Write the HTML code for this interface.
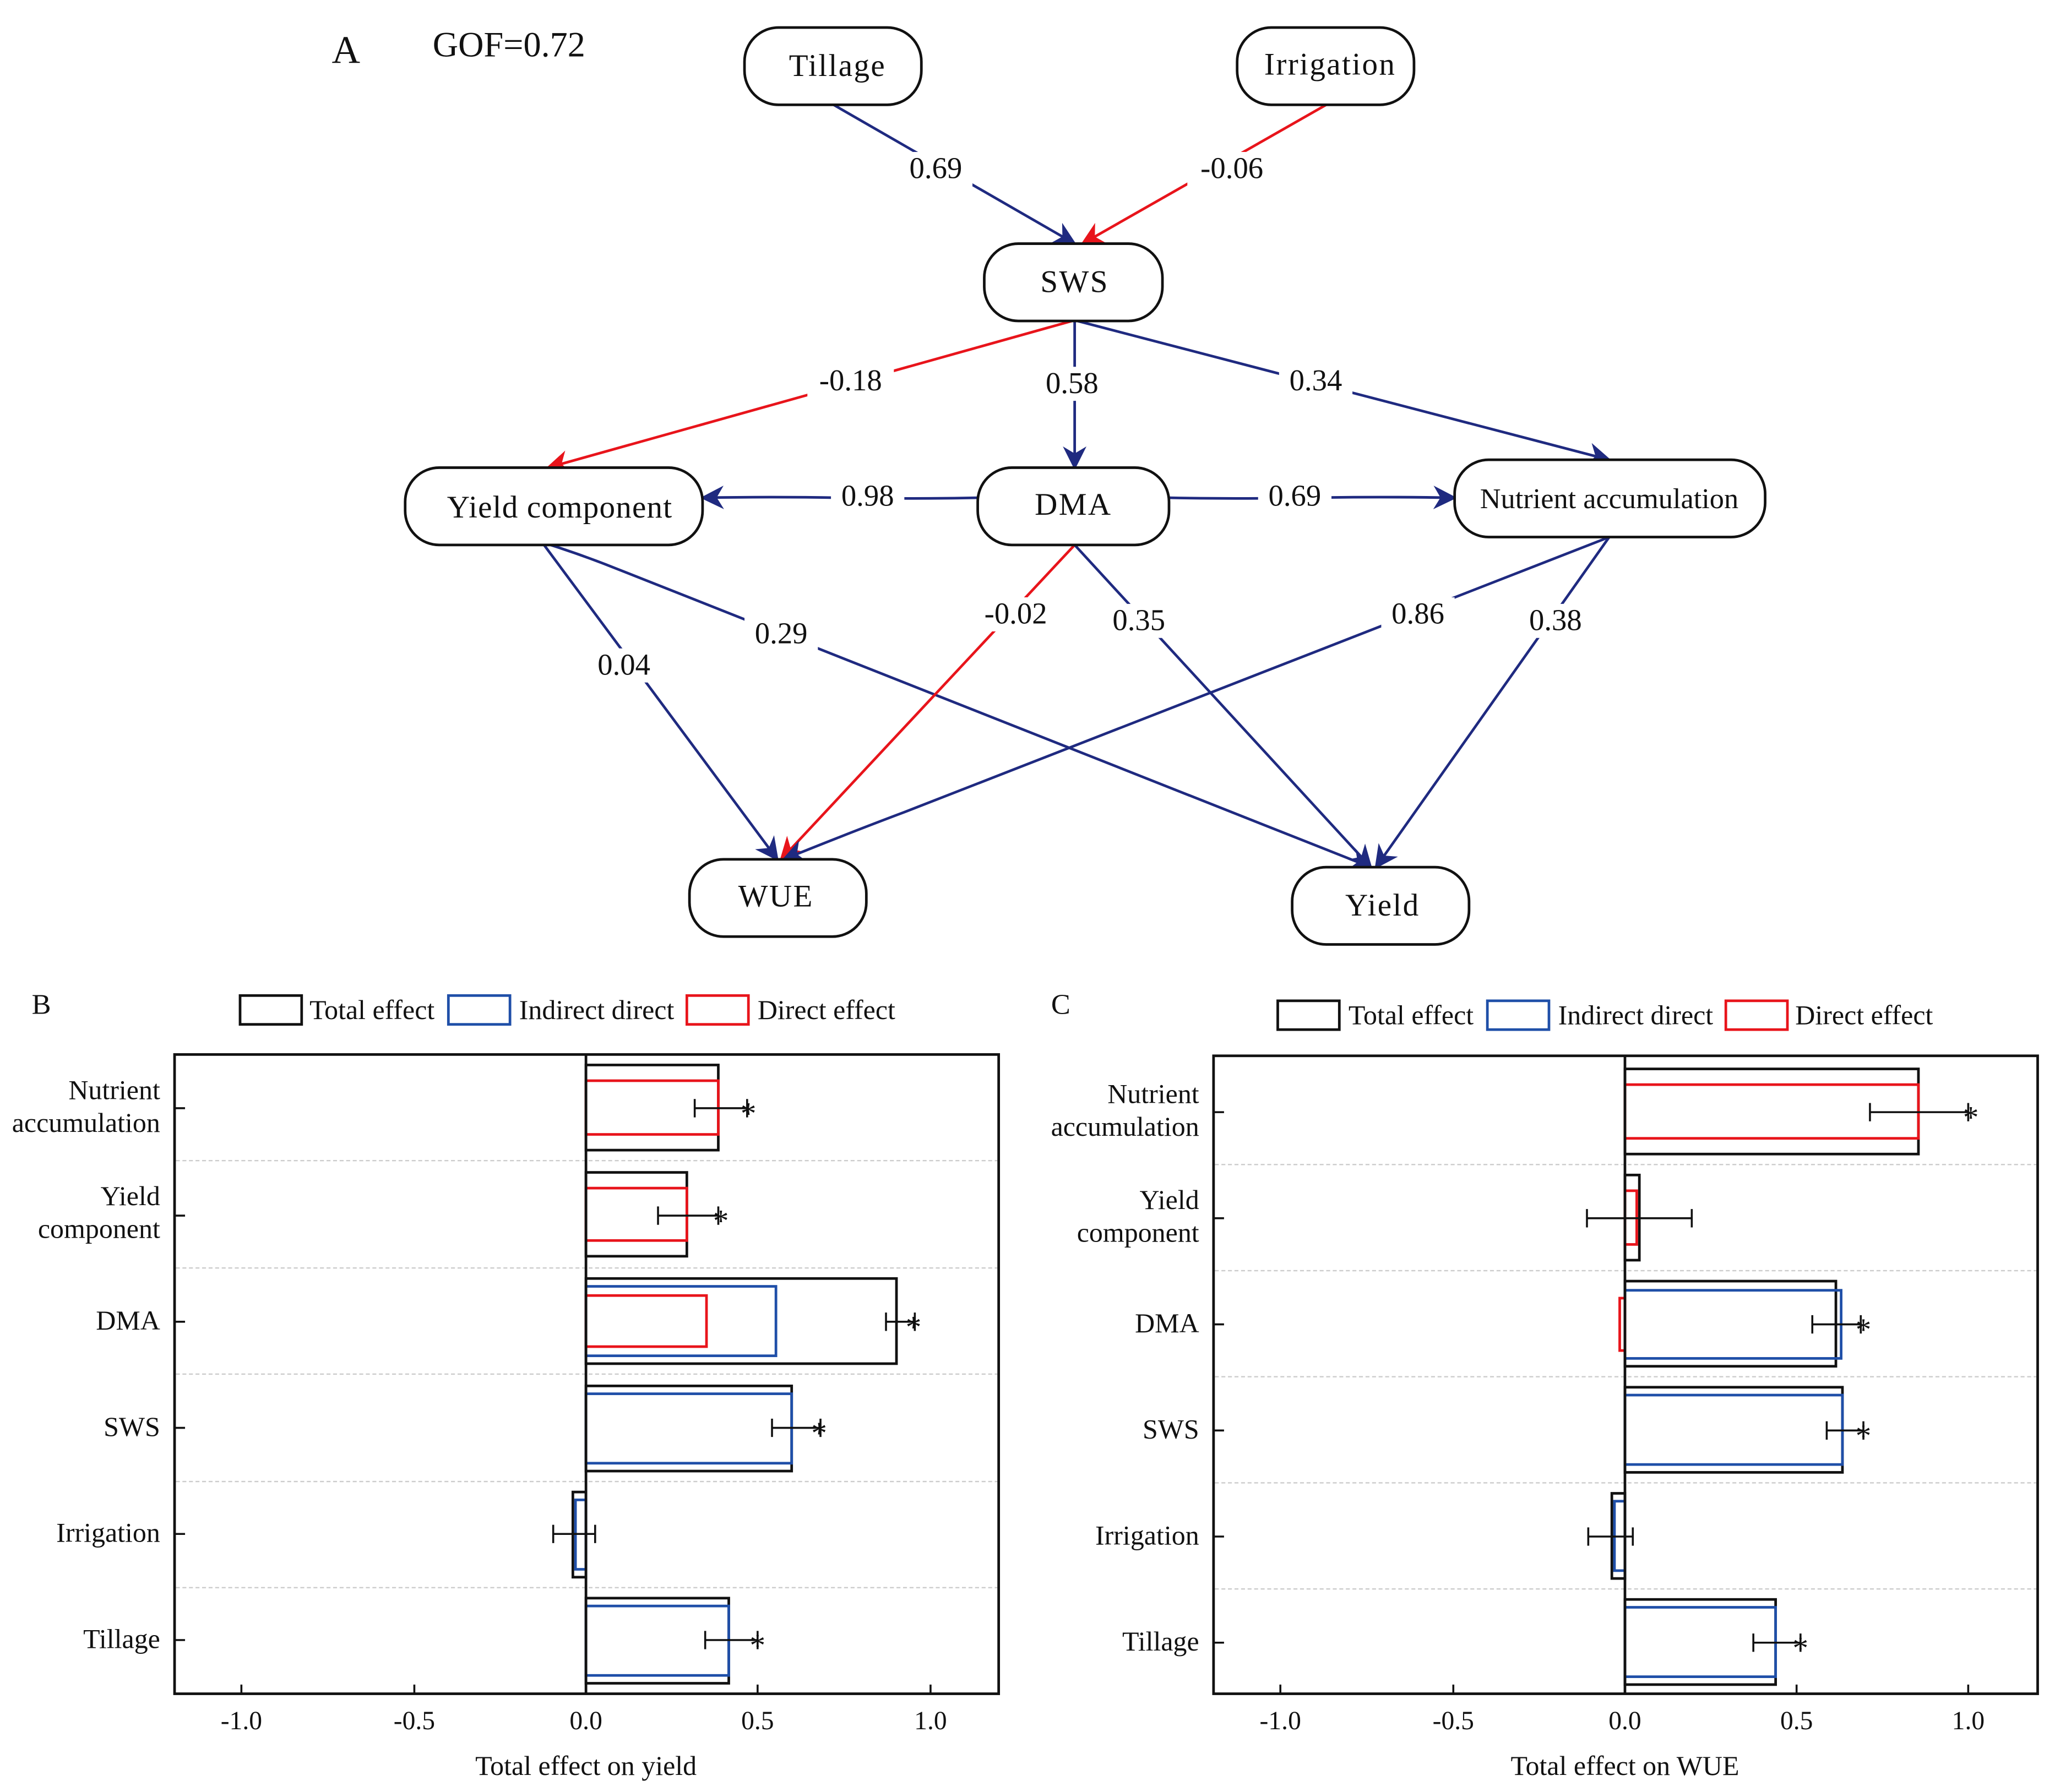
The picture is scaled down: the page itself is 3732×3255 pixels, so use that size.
<!DOCTYPE html>
<html><head><meta charset="utf-8"><style>
html,body{margin:0;padding:0;background:#fff}
svg{display:block}
text{font-family:"Liberation Serif",serif;fill:#111}
</style></head><body>
<svg width="3732" height="3255" viewBox="0 0 1568 1368" xmlns="http://www.w3.org/2000/svg">
<defs>
<marker id="ab2" viewBox="0 0 10 10" refX="9" refY="5" markerWidth="18" markerHeight="18" orient="auto" markerUnits="userSpaceOnUse"><path d="M0,0 L10,5 L0,10 L3,5 z" fill="#1f2a80"/></marker>
<marker id="ar2" viewBox="0 0 10 10" refX="9" refY="5" markerWidth="18" markerHeight="18" orient="auto" markerUnits="userSpaceOnUse"><path d="M0,0 L10,5 L0,10 L3,5 z" fill="#e8141b"/></marker>
</defs>
<rect width="1568" height="1368" fill="#fff"/>
<!-- Panel A -->
<text x="253" y="48" font-size="30">A</text>
<text x="330" y="43" font-size="27">GOF=0.72</text>
<g fill="none" stroke-width="2">
<line x1="636" y1="80" x2="820" y2="186" stroke="#1f2a80" marker-end="url(#ab2)"/>
<line x1="1012" y1="80" x2="826" y2="186" stroke="#e8141b" marker-end="url(#ar2)"/>
<line x1="818" y1="245" x2="418" y2="357" stroke="#e8141b" marker-end="url(#ar2)"/>
<line x1="820" y1="245" x2="820" y2="357" stroke="#1f2a80" marker-end="url(#ab2)"/>
<line x1="822" y1="245" x2="1228" y2="351" stroke="#1f2a80" marker-end="url(#ab2)"/>
<path d="M746,380 Q700,381 640,380 Q590,379 536,380" stroke="#1f2a80" marker-end="url(#ab2)"/>
<path d="M892,380 Q940,381 1000,380 Q1050,379 1110,380" stroke="#1f2a80" marker-end="url(#ab2)"/>
<line x1="415" y1="416" x2="593" y2="656" stroke="#1f2a80" marker-end="url(#ab2)"/>
<path d="M420,416 Q445,424 470,434 L1046,662" stroke="#1f2a80" marker-end="url(#ab2)"/>
<line x1="820" y1="416" x2="596" y2="656" stroke="#e8141b" marker-end="url(#ar2)"/>
<line x1="820" y1="416" x2="1046" y2="662" stroke="#1f2a80" marker-end="url(#ab2)"/>
<path d="M1228,410 L690,620 Q650,635 598,656" stroke="#1f2a80" marker-end="url(#ab2)"/>
<line x1="1228" y1="410" x2="1050" y2="662" stroke="#1f2a80" marker-end="url(#ab2)"/>
</g>
<g font-size="23" text-anchor="middle">
<rect x="686" y="116" width="56" height="26" fill="#fff"/><text x="714" y="136">0.69</text>
<rect x="906" y="116" width="68" height="26" fill="#fff"/><text x="940" y="136">-0.06</text>
<rect x="616" y="278" width="66" height="26" fill="#fff"/><text x="649" y="298">-0.18</text>
<rect x="790" y="280" width="56" height="26" fill="#fff"/><text x="818" y="300">0.58</text>
<rect x="976" y="278" width="56" height="26" fill="#fff"/><text x="1004" y="298">0.34</text>
<rect x="634" y="366" width="56" height="26" fill="#fff"/><text x="662" y="386">0.98</text>
<rect x="960" y="366" width="56" height="26" fill="#fff"/><text x="988" y="386">0.69</text>
<rect x="448" y="495" width="56" height="26" fill="#fff"/><text x="476" y="515">0.04</text>
<rect x="568" y="471" width="56" height="26" fill="#fff"/><text x="596" y="491">0.29</text>
<rect x="742" y="456" width="66" height="26" fill="#fff"/><text x="775" y="476">-0.02</text>
<rect x="841" y="461" width="56" height="26" fill="#fff"/><text x="869" y="481">0.35</text>
<rect x="1054" y="456" width="56" height="26" fill="#fff"/><text x="1082" y="476">0.86</text>
<rect x="1159" y="461" width="56" height="26" fill="#fff"/><text x="1187" y="481">0.38</text>
</g>
<g fill="#fff" stroke="#111" stroke-width="2">
<rect x="568" y="21" width="135" height="59" rx="26"/>
<rect x="944" y="21" width="135" height="59" rx="26"/>
<rect x="751" y="186" width="136" height="59" rx="26"/>
<rect x="309" y="357" width="227" height="59" rx="26"/>
<rect x="746" y="357" width="146" height="59" rx="26"/>
<rect x="1110" y="351" width="237" height="59" rx="26"/>
<rect x="526" y="656" width="135" height="59" rx="26"/>
<rect x="986" y="662" width="135" height="59" rx="26"/>
</g>
<g font-size="24" text-anchor="middle">
<text x="639" y="58" letter-spacing="1">Tillage</text>
<text x="1015" y="57" letter-spacing="1">Irrigation</text>
<text x="820" y="223" letter-spacing="1">SWS</text>
<text x="427" y="395" letter-spacing="0.5">Yield component</text>
<text x="819" y="393" letter-spacing="1">DMA</text>
<text x="1228" y="388" font-size="22">Nutrient accumulation</text>
<text x="592" y="692" letter-spacing="1">WUE</text>
<text x="1055" y="699" letter-spacing="1">Yield</text>
</g>

<!-- Panel B -->
<text x="24" y="774" font-size="22">B</text>
<g stroke-width="2" fill="none">
<rect x="183" y="760" width="47" height="22" stroke="#111"/>
<rect x="342" y="760" width="47" height="22" stroke="#1f4fa8"/>
<rect x="524" y="760" width="47" height="22" stroke="#e8141b"/>
</g>
<g font-size="21"><text x="236" y="778">Total effect</text><text x="396" y="778">Indirect direct</text><text x="578" y="778">Direct effect</text></g>
<g stroke="#ccc" stroke-width="1" stroke-dasharray="3,2">
<line x1="134" y1="886" x2="761" y2="886"/><line x1="134" y1="968" x2="761" y2="968"/>
<line x1="134" y1="1049" x2="761" y2="1049"/><line x1="134" y1="1131" x2="761" y2="1131"/>
<line x1="134" y1="1212" x2="761" y2="1212"/>
</g>
<g stroke-width="2" fill="none">
<rect x="447" y="813" width="101" height="65" stroke="#111"/>
<rect x="447" y="825" width="101" height="41" stroke="#e8141b"/>
<rect x="447" y="895" width="77" height="64" stroke="#111"/>
<rect x="447" y="907" width="77" height="40" stroke="#e8141b"/>
<rect x="447" y="976" width="237" height="65" stroke="#111"/>
<rect x="447" y="982" width="145" height="53" stroke="#1f4fa8"/>
<rect x="447" y="989" width="92" height="39" stroke="#e8141b"/>
<rect x="447" y="1058" width="157" height="65" stroke="#111"/>
<rect x="447" y="1064" width="157" height="53" stroke="#1f4fa8"/>
<rect x="437" y="1139" width="10" height="65" stroke="#111"/>
<rect x="439" y="1145" width="8" height="53" stroke="#1f4fa8"/>
<rect x="447" y="1220" width="109" height="65" stroke="#111"/>
<rect x="447" y="1226" width="109" height="53" stroke="#1f4fa8"/>
<line x1="447" y1="805" x2="447" y2="1293" stroke="#111"/>
</g>
<g stroke="#111" stroke-width="1.5">
<path d="M530,846H570M530,839V853M570,839V853"/>
<path d="M502,928H548M502,921V935M548,921V935"/>
<path d="M676,1009H698M676,1002V1016M698,1002V1016"/>
<path d="M589,1090H626M589,1083V1097M626,1083V1097"/>
<path d="M422,1171H454M422,1164V1178M454,1164V1178"/>
<path d="M538,1252H578M538,1245V1259M578,1245V1259"/>
</g>
<g font-size="24"><text x="565" y="858">*</text><text x="544" y="940">*</text><text x="691" y="1021">*</text><text x="619" y="1102">*</text><text x="572" y="1264">*</text></g>
<rect x="133" y="805" width="629" height="488" fill="none" stroke="#111" stroke-width="2"/>
<g stroke="#111" stroke-width="1.5">
<path d="M133,846h8M133,928h8M133,1009h8M133,1090h8M133,1171h8M133,1252h8"/>
<path d="M184,1293v-7M316,1293v-7M447,1293v-7M578,1293v-7M710,1293v-7"/>
</g>
<g font-size="21" text-anchor="end">
<text x="122" y="839">Nutrient</text><text x="122" y="864">accumulation</text>
<text x="122" y="920">Yield</text><text x="122" y="945">component</text>
<text x="122" y="1015">DMA</text><text x="122" y="1096">SWS</text>
<text x="122" y="1177">Irrigation</text><text x="122" y="1258">Tillage</text>
</g>
<g font-size="20" text-anchor="middle">
<text x="184" y="1320">-1.0</text><text x="316" y="1320">-0.5</text><text x="447" y="1320">0.0</text><text x="578" y="1320">0.5</text><text x="710" y="1320">1.0</text>
<text x="447" y="1355" font-size="21">Total effect on yield</text>
</g>

<!-- Panel C -->
<text x="802" y="774" font-size="22">C</text>
<g stroke-width="2" fill="none">
<rect x="975" y="764" width="47" height="22" stroke="#111"/>
<rect x="1135" y="764" width="47" height="22" stroke="#1f4fa8"/>
<rect x="1317" y="764" width="47" height="22" stroke="#e8141b"/>
</g>
<g font-size="21"><text x="1029" y="782">Total effect</text><text x="1189" y="782">Indirect direct</text><text x="1370" y="782">Direct effect</text></g>
<g stroke="#ccc" stroke-width="1" stroke-dasharray="3,2">
<line x1="927" y1="889" x2="1554" y2="889"/><line x1="927" y1="970" x2="1554" y2="970"/>
<line x1="927" y1="1051" x2="1554" y2="1051"/><line x1="927" y1="1132" x2="1554" y2="1132"/>
<line x1="927" y1="1213" x2="1554" y2="1213"/>
</g>
<g stroke-width="2" fill="none">
<rect x="1240" y="816" width="224" height="65" stroke="#111"/>
<rect x="1240" y="828" width="224" height="41" stroke="#e8141b"/>
<rect x="1240" y="897" width="11" height="65" stroke="#111"/>
<rect x="1240" y="909" width="9" height="41" stroke="#e8141b"/>
<rect x="1240" y="978" width="161" height="65" stroke="#111"/>
<rect x="1240" y="985" width="165" height="52" stroke="#1f4fa8"/>
<rect x="1236" y="991" width="4" height="40" stroke="#e8141b"/>
<rect x="1240" y="1059" width="166" height="65" stroke="#111"/>
<rect x="1240" y="1065" width="166" height="53" stroke="#1f4fa8"/>
<rect x="1230" y="1140" width="10" height="65" stroke="#111"/>
<rect x="1232" y="1146" width="8" height="53" stroke="#1f4fa8"/>
<rect x="1240" y="1221" width="115" height="65" stroke="#111"/>
<rect x="1240" y="1227" width="115" height="53" stroke="#1f4fa8"/>
<line x1="1240" y1="806" x2="1240" y2="1293" stroke="#111"/>
</g>
<g stroke="#111" stroke-width="1.5">
<path d="M1427,849H1502M1427,842V856M1502,842V856"/>
<path d="M1211,930H1291M1211,923V937M1291,923V937"/>
<path d="M1383,1011H1420M1383,1004V1018M1420,1004V1018"/>
<path d="M1394,1092H1422M1394,1085V1099M1422,1085V1099"/>
<path d="M1212,1173H1246M1212,1166V1180M1246,1166V1180"/>
<path d="M1338,1254H1374M1338,1247V1261M1374,1247V1261"/>
</g>
<g font-size="24"><text x="1498" y="861">*</text><text x="1416" y="1023">*</text><text x="1416" y="1104">*</text><text x="1368" y="1266">*</text></g>
<rect x="926" y="806" width="629" height="487" fill="none" stroke="#111" stroke-width="2"/>
<g stroke="#111" stroke-width="1.5">
<path d="M926,849h8M926,930h8M926,1011h8M926,1092h8M926,1173h8M926,1254h8"/>
<path d="M977,1293v-7M1109,1293v-7M1240,1293v-7M1371,1293v-7M1502,1293v-7"/>
</g>
<g font-size="21" text-anchor="end">
<text x="915" y="842">Nutrient</text><text x="915" y="867">accumulation</text>
<text x="915" y="923">Yield</text><text x="915" y="948">component</text>
<text x="915" y="1017">DMA</text><text x="915" y="1098">SWS</text>
<text x="915" y="1179">Irrigation</text><text x="915" y="1260">Tillage</text>
</g>
<g font-size="20" text-anchor="middle">
<text x="977" y="1320">-1.0</text><text x="1109" y="1320">-0.5</text><text x="1240" y="1320">0.0</text><text x="1371" y="1320">0.5</text><text x="1502" y="1320">1.0</text>
<text x="1240" y="1355" font-size="21">Total effect on WUE</text>
</g>
</svg>
</body></html>
